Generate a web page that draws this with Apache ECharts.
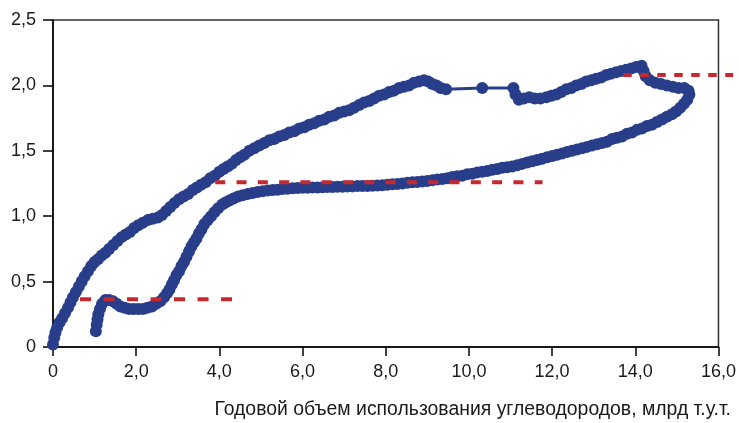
<!DOCTYPE html>
<html>
<head>
<meta charset="utf-8">
<script src="https://cdn.jsdelivr.net/npm/echarts@6/dist/echarts.min.js"></script>
<style>
  html, body { margin: 0; padding: 0; background: #fff; }
  #chart { width: 739px; height: 423px; }
</style>
</head>
<body>
<div id="chart"></div>
<script>
// Annual hydrocarbon use (x, bn t c.e.) and the indicator plotted against it (y)
var volume = [
  0.00, 0.03, 0.06, 0.10, 0.16, 0.22, 0.29, 0.36, 0.42, 0.48, 0.55, 0.62, 0.69, 0.76, 0.84, 0.92,
  1.00, 1.08, 1.17, 1.26, 1.35, 1.45, 1.55, 1.65, 1.75, 1.85, 1.95, 2.05, 2.16, 2.28, 2.40, 2.52,
  2.62, 2.72, 2.82, 2.92, 3.03, 3.14, 3.25, 3.36, 3.46, 3.56, 3.67, 3.78, 3.89, 4.00, 4.10, 4.20,
  4.30, 4.40, 4.50, 4.60, 4.72, 4.84, 4.96, 5.08, 5.20, 5.32, 5.44, 5.56, 5.68, 5.80, 5.92, 6.04,
  6.16, 6.28, 6.40, 6.52, 6.64, 6.76, 6.88, 7.00, 7.12, 7.24, 7.36, 7.48, 7.60, 7.72, 7.84, 7.96,
  8.08, 8.20, 8.32, 8.44, 8.56, 8.68, 8.80, 8.92, 9.02, 9.12, 9.22, 9.32, 9.45, 10.32, 11.07, 11.12,
  11.20, 11.32, 11.45, 11.58, 11.72, 11.86, 11.98, 12.10, 12.22, 12.34, 12.46, 12.58, 12.70, 12.82, 12.94, 13.06,
  13.18, 13.30, 13.42, 13.54, 13.66, 13.78, 13.90, 14.02, 14.15, 14.20, 14.25, 14.35, 14.48, 14.62, 14.76, 14.90,
  15.04, 15.18, 15.28, 15.30,
  15.25, 15.17, 15.08, 14.98, 14.88, 14.76, 14.64, 14.52, 14.40, 14.28, 14.16, 14.04, 13.92, 13.80, 13.68, 13.56,
  13.44, 13.32, 13.20, 13.08, 12.96, 12.84, 12.72, 12.60, 12.48, 12.36, 12.24, 12.12, 12.00, 11.88, 11.76, 11.64,
  11.52, 11.40, 11.28, 11.16, 11.04, 10.92, 10.80, 10.68, 10.56, 10.44, 10.32, 10.20, 10.08, 9.96, 9.84, 9.72,
  9.60, 9.48, 9.36, 9.24, 9.12, 9.00, 8.88, 8.76, 8.64, 8.52, 8.40, 8.28, 8.16, 8.04, 7.92, 7.80,
  7.68, 7.56, 7.44, 7.32, 7.20, 7.08, 6.96, 6.84, 6.72, 6.60, 6.48, 6.36, 6.24, 6.12, 6.00, 5.88,
  5.76, 5.64, 5.52, 5.40, 5.28, 5.16, 5.04, 4.92, 4.80, 4.68, 4.56, 4.45, 4.34, 4.24, 4.15, 4.07,
  3.97, 3.88, 3.80, 3.72, 3.64, 3.57, 3.51, 3.45, 3.39, 3.33, 3.27, 3.21, 3.15, 3.09, 3.03, 2.97,
  2.91, 2.86, 2.80, 2.74, 2.67, 2.58, 2.48, 2.38, 2.27, 2.16, 2.05, 1.94, 1.83, 1.72, 1.62, 1.53,
  1.44, 1.35, 1.26, 1.18, 1.13, 1.09, 1.07, 1.05, 1.03
];
var indicator = [
  0.02, 0.07, 0.11, 0.15, 0.19, 0.22, 0.26, 0.30, 0.34, 0.38, 0.42, 0.46, 0.50, 0.54, 0.58, 0.62,
  0.65, 0.67, 0.70, 0.72, 0.75, 0.78, 0.81, 0.84, 0.86, 0.88, 0.91, 0.93, 0.95, 0.97, 0.98, 0.99,
  1.01, 1.04, 1.07, 1.10, 1.13, 1.15, 1.17, 1.20, 1.22, 1.24, 1.26, 1.29, 1.31, 1.34, 1.36, 1.38,
  1.40, 1.43, 1.45, 1.47, 1.50, 1.52, 1.54, 1.56, 1.58, 1.59, 1.61, 1.62, 1.64, 1.65, 1.67, 1.68,
  1.70, 1.71, 1.73, 1.74, 1.76, 1.77, 1.79, 1.80, 1.81, 1.83, 1.85, 1.87, 1.88, 1.90, 1.92, 1.93,
  1.95, 1.96, 1.98, 1.99, 2.00, 2.02, 2.03, 2.04, 2.03, 2.01, 2.00, 1.98, 1.97, 1.98, 1.98, 1.93,
  1.89, 1.90, 1.91, 1.90, 1.90, 1.91, 1.92, 1.93, 1.95, 1.97, 1.98, 2.00, 2.01, 2.03, 2.04, 2.05,
  2.06, 2.08, 2.09, 2.10, 2.11, 2.12, 2.13, 2.14, 2.15, 2.11, 2.07, 2.04, 2.02, 2.01, 2.00, 1.99,
  1.98, 1.98, 1.96, 1.93,
  1.89, 1.86, 1.83, 1.80, 1.78, 1.76, 1.74, 1.72, 1.70, 1.69, 1.67, 1.66, 1.64, 1.63, 1.61, 1.60,
  1.59, 1.57, 1.56, 1.55, 1.54, 1.53, 1.52, 1.51, 1.50, 1.49, 1.48, 1.47, 1.46, 1.45, 1.44, 1.43,
  1.42, 1.41, 1.40, 1.39, 1.38, 1.375, 1.37, 1.36, 1.355, 1.345, 1.34, 1.335, 1.325, 1.32, 1.31, 1.305,
  1.30, 1.29, 1.285, 1.28, 1.275, 1.27, 1.265, 1.262, 1.26, 1.255, 1.25, 1.247, 1.244, 1.24, 1.237, 1.235,
  1.232, 1.23, 1.23, 1.23, 1.228, 1.227, 1.225, 1.225, 1.224, 1.223, 1.222, 1.22, 1.22, 1.218, 1.217, 1.215,
  1.213, 1.21, 1.207, 1.203, 1.20, 1.196, 1.19, 1.185, 1.178, 1.17, 1.16, 1.15, 1.135, 1.12, 1.105, 1.09,
  1.06, 1.03, 1.00, 0.97, 0.94, 0.90, 0.87, 0.83, 0.80, 0.77, 0.73, 0.69, 0.65, 0.62, 0.58, 0.55,
  0.51, 0.48, 0.44, 0.41, 0.38, 0.35, 0.33, 0.31, 0.30, 0.29, 0.29, 0.29, 0.29, 0.30, 0.31, 0.33,
  0.35, 0.36, 0.36, 0.33, 0.29, 0.25, 0.21, 0.17, 0.12
];

// Reference levels (dashed): level value and the x-span of each segment
var levelValues = [0.365, 1.26, 2.08];
var levelStart = [0.65, 3.9, 13.71];
var levelEnd = [4.35, 11.77, 16.35];
var levelDash = [[11, 12.5], [10, 11.3], [8.5, 8.5]];

// Tick labels
var xTickLabels = ['0', '2,0', '4,0', '6,0', '8,0', '10,0', '12,0', '14,0', '16,0'];
var yTickLabels = ['0', '0,5', '1,0', '1,5', '2,0', '2,5'];
var xTitle = 'Годовой объем использования углеводородов, млрд т.у.т.';

var FONT = '"Liberation Sans", Arial, Helvetica, sans-serif';
var BLUE = '#293e8a';
var RED = '#c5282e';

var pathData = volume.map(function (v, i) { return [v, indicator[i]]; });

var chart = echarts.init(document.getElementById('chart'), null, { renderer: 'canvas' });
chart.setOption({
  animation: false,
  backgroundColor: '#ffffff',
  title: {
    text: xTitle,
    right: 8,
    top: 400,
    padding: 0,
    textStyle: { fontFamily: FONT, fontSize: 19.4, fontWeight: 'normal', color: '#1a1a1a' }
  },
  grid: {
    left: 53, right: 16, top: 20, bottom: 76,
    show: true, borderColor: '#333', borderWidth: 1.5, backgroundColor: 'transparent'
  },
  xAxis: {
    type: 'value', min: 0, max: 16, interval: 2,
    axisLine: { show: true, lineStyle: { color: '#000', width: 1.5 } },
    axisTick: { show: true, length: 9, lineStyle: { color: '#000', width: 1.5 } },
    splitLine: { show: false },
    axisLabel: {
      margin: 16, fontFamily: FONT, fontSize: 18, color: '#1a1a1a',
      formatter: function (v) { return xTickLabels[Math.round(v / 2)]; }
    }
  },
  yAxis: {
    type: 'value', min: 0, max: 2.5, interval: 0.5,
    axisLine: { show: true, lineStyle: { color: '#000', width: 1.5 } },
    axisTick: { show: true, length: 10, lineStyle: { color: '#000', width: 1.5 } },
    splitLine: { show: false },
    axisLabel: {
      margin: 17, fontFamily: FONT, fontSize: 18, color: '#1a1a1a',
      formatter: function (v) { return yTickLabels[Math.round(v / 0.5)]; }
    }
  },
  series: [{
    type: 'line',
    data: pathData,
    symbol: 'circle',
    symbolSize: 12,
    showSymbol: true,
    lineStyle: { color: BLUE, width: 3 },
    itemStyle: { color: BLUE },
    emphasis: { disabled: true },
    z: 2
  }]
});

// Dashed level segments, positioned through the grid's own scales so the
// last one can run past the right edge of the plot area.
var levelGraphics = levelValues.map(function (lv, i) {
  var p0 = chart.convertToPixel({ gridIndex: 0 }, [levelStart[i], lv]);
  var p1 = chart.convertToPixel({ gridIndex: 0 }, [levelEnd[i], lv]);
  return {
    type: 'line',
    shape: { x1: p0[0], y1: p0[1], x2: p1[0], y2: p1[1] },
    style: { stroke: RED, lineWidth: 4, lineDash: levelDash[i], lineCap: 'butt' },
    silent: true,
    z: 10
  };
});
chart.setOption({ graphic: levelGraphics });
</script>
</body>
</html>
